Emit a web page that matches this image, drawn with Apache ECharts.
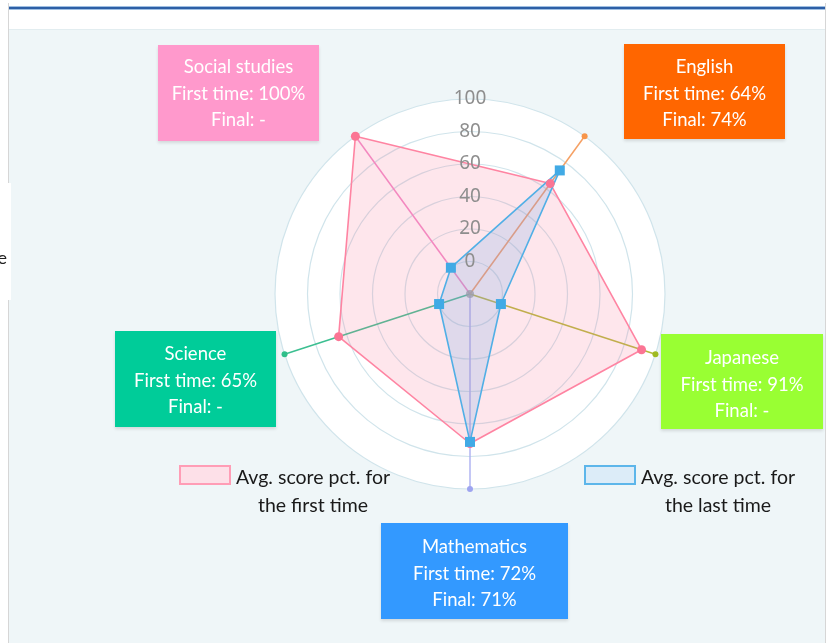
<!DOCTYPE html>
<html><head><meta charset="utf-8">
<script src="https://cdn.jsdelivr.net/npm/echarts@6/dist/echarts.min.js"></script>
<style>html,body{margin:0;padding:0;background:#fff}#c{width:827px;height:643px}</style>
</head><body><div id="c"></div>
<script>
// ---- data ----
const subjects = ['Social studies', 'Science', 'Mathematics', 'Japanese', 'English'];
const firstScores = [100, 65, 72, 91, 64];
const finalScores = [null, null, 71, null, 74];
const radialTicks = [0, 20, 40, 60, 80, 100];
const seriesNames = ['Avg. score pct. for the first time', 'Avg. score pct. for the last time'];
const legendLines = [['Avg. score pct. for', 'the first time'], ['Avg. score pct. for', 'the last time']];

// ---- styles / layout ----
const boxColors = ['#ff99cc', '#00cc99', '#3399ff', '#99ff33', '#ff6600'];
const axisColors = ['#f28bc8', '#3cbf91', '#b0b4f2', '#b4ba3a', '#f5a064'];
const axisDotColors = ['#ee7fc0', '#2fbf8a', '#9ea4f0', '#9fbb22', '#f7954a'];
const boxLayout = [
  {x: 158, y: 45, w: 161, h: 96, cx: 238.5, cy: 94},
  {x: 115, y: 331, w: 161, h: 96, cx: 195.5, cy: 381},
  {x: 381, y: 523, w: 187, h: 96, cx: 474.5, cy: 574},
  {x: 661, y: 334, w: 162, h: 95, cx: 742, cy: 385},
  {x: 624, y: 44, w: 161, h: 95, cx: 704.5, cy: 94}
];
const CENTER = [470, 294], RADIUS = 195, AXMIN = -20, AXMAX = 100;
const FONT = 'Lato, "Open Sans", sans-serif';
const angleOf = i => (36 + 72 * i) % 360;

const chart = echarts.init(document.getElementById('c'), null, {renderer: 'canvas'});

const graphics = [
  {type: 'rect', shape: {x: 0, y: 0, width: 827, height: 29}, style: {fill: '#ffffff'}, z: -5},
  {type: 'rect', shape: {x: 0, y: 0, width: 9, height: 643}, style: {fill: '#ffffff'}, z: -5},
  {type: 'rect', shape: {x: 826, y: 0, width: 1, height: 643}, style: {fill: '#ffffff'}, z: -5},
  {type: 'rect', shape: {x: 9, y: 29, width: 817, height: 1}, style: {fill: '#e2edf0'}, z: -4},
  {type: 'rect', shape: {x: 9, y: 6, width: 817, height: 4}, style: {fill: '#9fbfe2'}, z: -4},
  {type: 'rect', shape: {x: 9, y: 7, width: 817, height: 2}, style: {fill: '#2d5fa6'}, z: -4},
  {type: 'rect', shape: {x: 8, y: 3, width: 1, height: 640}, style: {fill: '#d6d6d6'}, z: -4},
  {type: 'rect', shape: {x: 825, y: 3, width: 1, height: 640}, style: {fill: '#d6d6d6'}, z: -4},
  {type: 'rect', shape: {x: 0, y: 183, width: 11, height: 117}, style: {fill: '#ffffff'}, z: -3},
  {type: 'text', style: {text: 'e', x: 7, y: 258, align: 'right', verticalAlign: 'middle', font: '18px ' + FONT, fill: '#222'}, z: -3}
];
subjects.forEach((s, i) => {
  const b = boxLayout[i];
  const fin = finalScores[i] == null ? '-' : finalScores[i] + '%';
  graphics.push({type: 'rect', shape: {x: b.x, y: b.y, width: b.w, height: b.h},
    style: {fill: boxColors[i], shadowColor: 'rgba(0,0,0,0.12)', shadowBlur: 3, shadowOffsetY: 2}, z: 20});
  graphics.push({type: 'text', z: 21, style: {
    text: s + '\nFirst time: ' + firstScores[i] + '%\nFinal: ' + fin,
    x: b.cx, y: b.cy, align: 'center', verticalAlign: 'middle',
    font: '18.5px ' + FONT, lineHeight: 26.5, fill: '#ffffff'}});
});

const axisSeries = subjects.map((s, i) => ({
  type: 'line', coordinateSystem: 'polar', polarIndex: 0, z: 3, silent: true, animation: false,
  data: [
    {value: [AXMIN, angleOf(i)], symbol: 'none'},
    {value: [AXMAX, angleOf(i)], symbol: 'circle', symbolSize: 6}
  ],
  lineStyle: {color: axisColors[i], width: 1.5},
  itemStyle: {color: axisDotColors[i]}
}));

const legendCommon = (k) => ({
  orient: 'horizontal', padding: 0, itemWidth: 50, itemHeight: 18, icon: 'rect', itemGap: 0,
  selectedMode: false,
  formatter: () => legendLines[k].map(l => '{t|' + l + '}').join('\n'),
  textStyle: {padding: [34, 0, 0, 0], rich: {t: {width: 156, align: 'center', fontSize: 19.5, lineHeight: 28, color: '#1a1a1a', fontFamily: FONT}}}
});

const option = {
  backgroundColor: '#eff6f8',
  animation: false,
  graphic: {elements: graphics},
  legend: [
    Object.assign(legendCommon(0), {left: 179, top: 465,
      data: [{name: seriesNames[0], itemStyle: {color: '#fde0e8', borderColor: '#ff9db6', borderWidth: 2}}]}),
    Object.assign(legendCommon(1), {left: 584, top: 465,
      data: [{name: seriesNames[1], itemStyle: {color: '#dcecf8', borderColor: '#5db6ea', borderWidth: 2}}]})
  ],
  radar: {
    center: CENTER, radius: RADIUS, startAngle: 126, shape: 'circle', splitNumber: 6, z: 1,
    indicator: subjects.map(s => ({name: s, min: AXMIN, max: AXMAX})),
    axisName: {show: false},
    axisLine: {show: false},
    axisTick: {show: false},
    axisLabel: {show: false},
    splitLine: {lineStyle: {color: '#d0e4eb', width: 1.2}},
    splitArea: {show: true, areaStyle: {color: ['#ffffff']}}
  },
  polar: {center: CENTER, radius: RADIUS},
  angleAxis: {type: 'value', min: 0, max: 360, startAngle: 90, clockwise: false, show: false},
  radiusAxis: {
    type: 'value', min: AXMIN, max: AXMAX, interval: 20, z: 10,
    axisLine: {show: false}, axisTick: {show: false}, splitLine: {show: false},
    axisLabel: {
      margin: 0, align: 'center', verticalAlign: 'middle', color: '#8e8e8e',
      fontSize: 19, fontFamily: '"Noto Sans", sans-serif', padding: [4, 0, 0, 0],
      formatter: v => radialTicks.indexOf(v) >= 0 ? String(v) : ''
    }
  },
  series: [
    ...axisSeries,
    {
      type: 'scatter', coordinateSystem: 'polar', z: 6, silent: true,
      data: [[AXMIN, 0]], symbolSize: 8, itemStyle: {color: '#9c9eae'}
    },
    {
      type: 'radar', z: 5, silent: true,
      data: [
        {
          name: seriesNames[0], value: firstScores,
          symbol: 'circle', symbolSize: 9,
          lineStyle: {color: '#ff85a3', width: 1.6},
          itemStyle: {color: '#fb7594'},
          areaStyle: {color: 'rgba(250,125,158,0.28)'}
        },
        {
          name: seriesNames[1], value: finalScores.map(v => v == null ? 0 : v),
          symbol: 'rect', symbolSize: 10,
          lineStyle: {color: '#4eb0e6', width: 1.6},
          itemStyle: {color: '#41aae5'},
          areaStyle: {color: 'rgba(110,170,230,0.3)'}
        }
      ]
    }
  ]
};
chart.setOption(option);
</script></body></html>
